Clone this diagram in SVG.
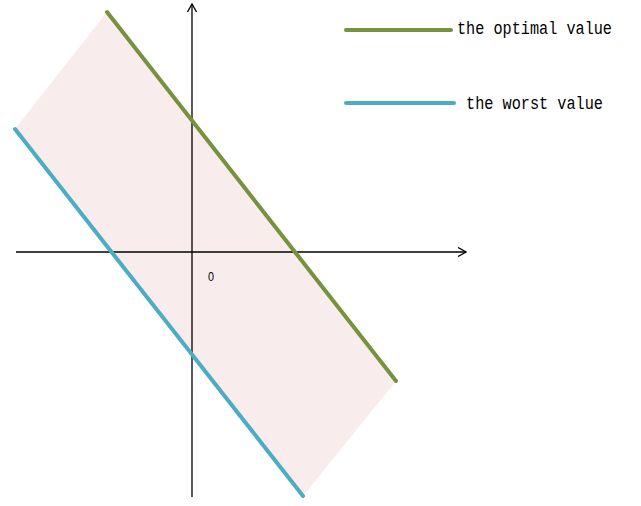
<svg xmlns="http://www.w3.org/2000/svg" width="641" height="506" viewBox="0 0 641 506">
<style>
.ax{stroke:#000;stroke-width:1.3;fill:none}
.opt{stroke:#76923C;stroke-width:4;stroke-linecap:round}
.wst{stroke:#4BACC6;stroke-width:4;stroke-linecap:round}
.lbl{font-family:"Liberation Mono","DejaVu Sans Mono",monospace;font-size:18px;fill:#000}
</style>
<defs>
<marker id="arr" viewBox="0 0 10 10" refX="9" refY="5" markerWidth="10" markerHeight="10" markerUnits="userSpaceOnUse" orient="auto">
<path d="M1,0.5 L9,5 L1,9.5" fill="none" stroke="#000" stroke-width="1.3"/>
</marker>
</defs>
<rect width="641" height="506" fill="#fff"/>
<g id="region">
<polygon points="107,12 396,381 303,496 15,129" fill="#F8ECEC"/>
</g>
<g id="axes">
<line class="ax" x1="16" y1="252" x2="466" y2="252" marker-end="url(#arr)"/>
<line class="ax" x1="192" y1="497" x2="192" y2="4" marker-end="url(#arr)"/>
<text x="208" y="281" font-family="Liberation Sans, sans-serif" font-size="13" textLength="6" lengthAdjust="spacingAndGlyphs">0</text>
</g>
<g id="connectors">
<line id="optimal" class="opt" x1="107" y1="12" x2="396" y2="381"/>
<line id="worst" class="wst" x1="15" y1="129" x2="303" y2="496"/>
</g>
<g id="legend">
<line class="opt" x1="346" y1="30" x2="451" y2="30"/>
<text class="lbl" x="457" y="34" textLength="155" lengthAdjust="spacingAndGlyphs">the optimal value</text>
<line class="wst" x1="346" y1="103" x2="454" y2="103"/>
<text class="lbl" x="466" y="109" textLength="137" lengthAdjust="spacingAndGlyphs">the worst value</text>
</g>
</svg>
